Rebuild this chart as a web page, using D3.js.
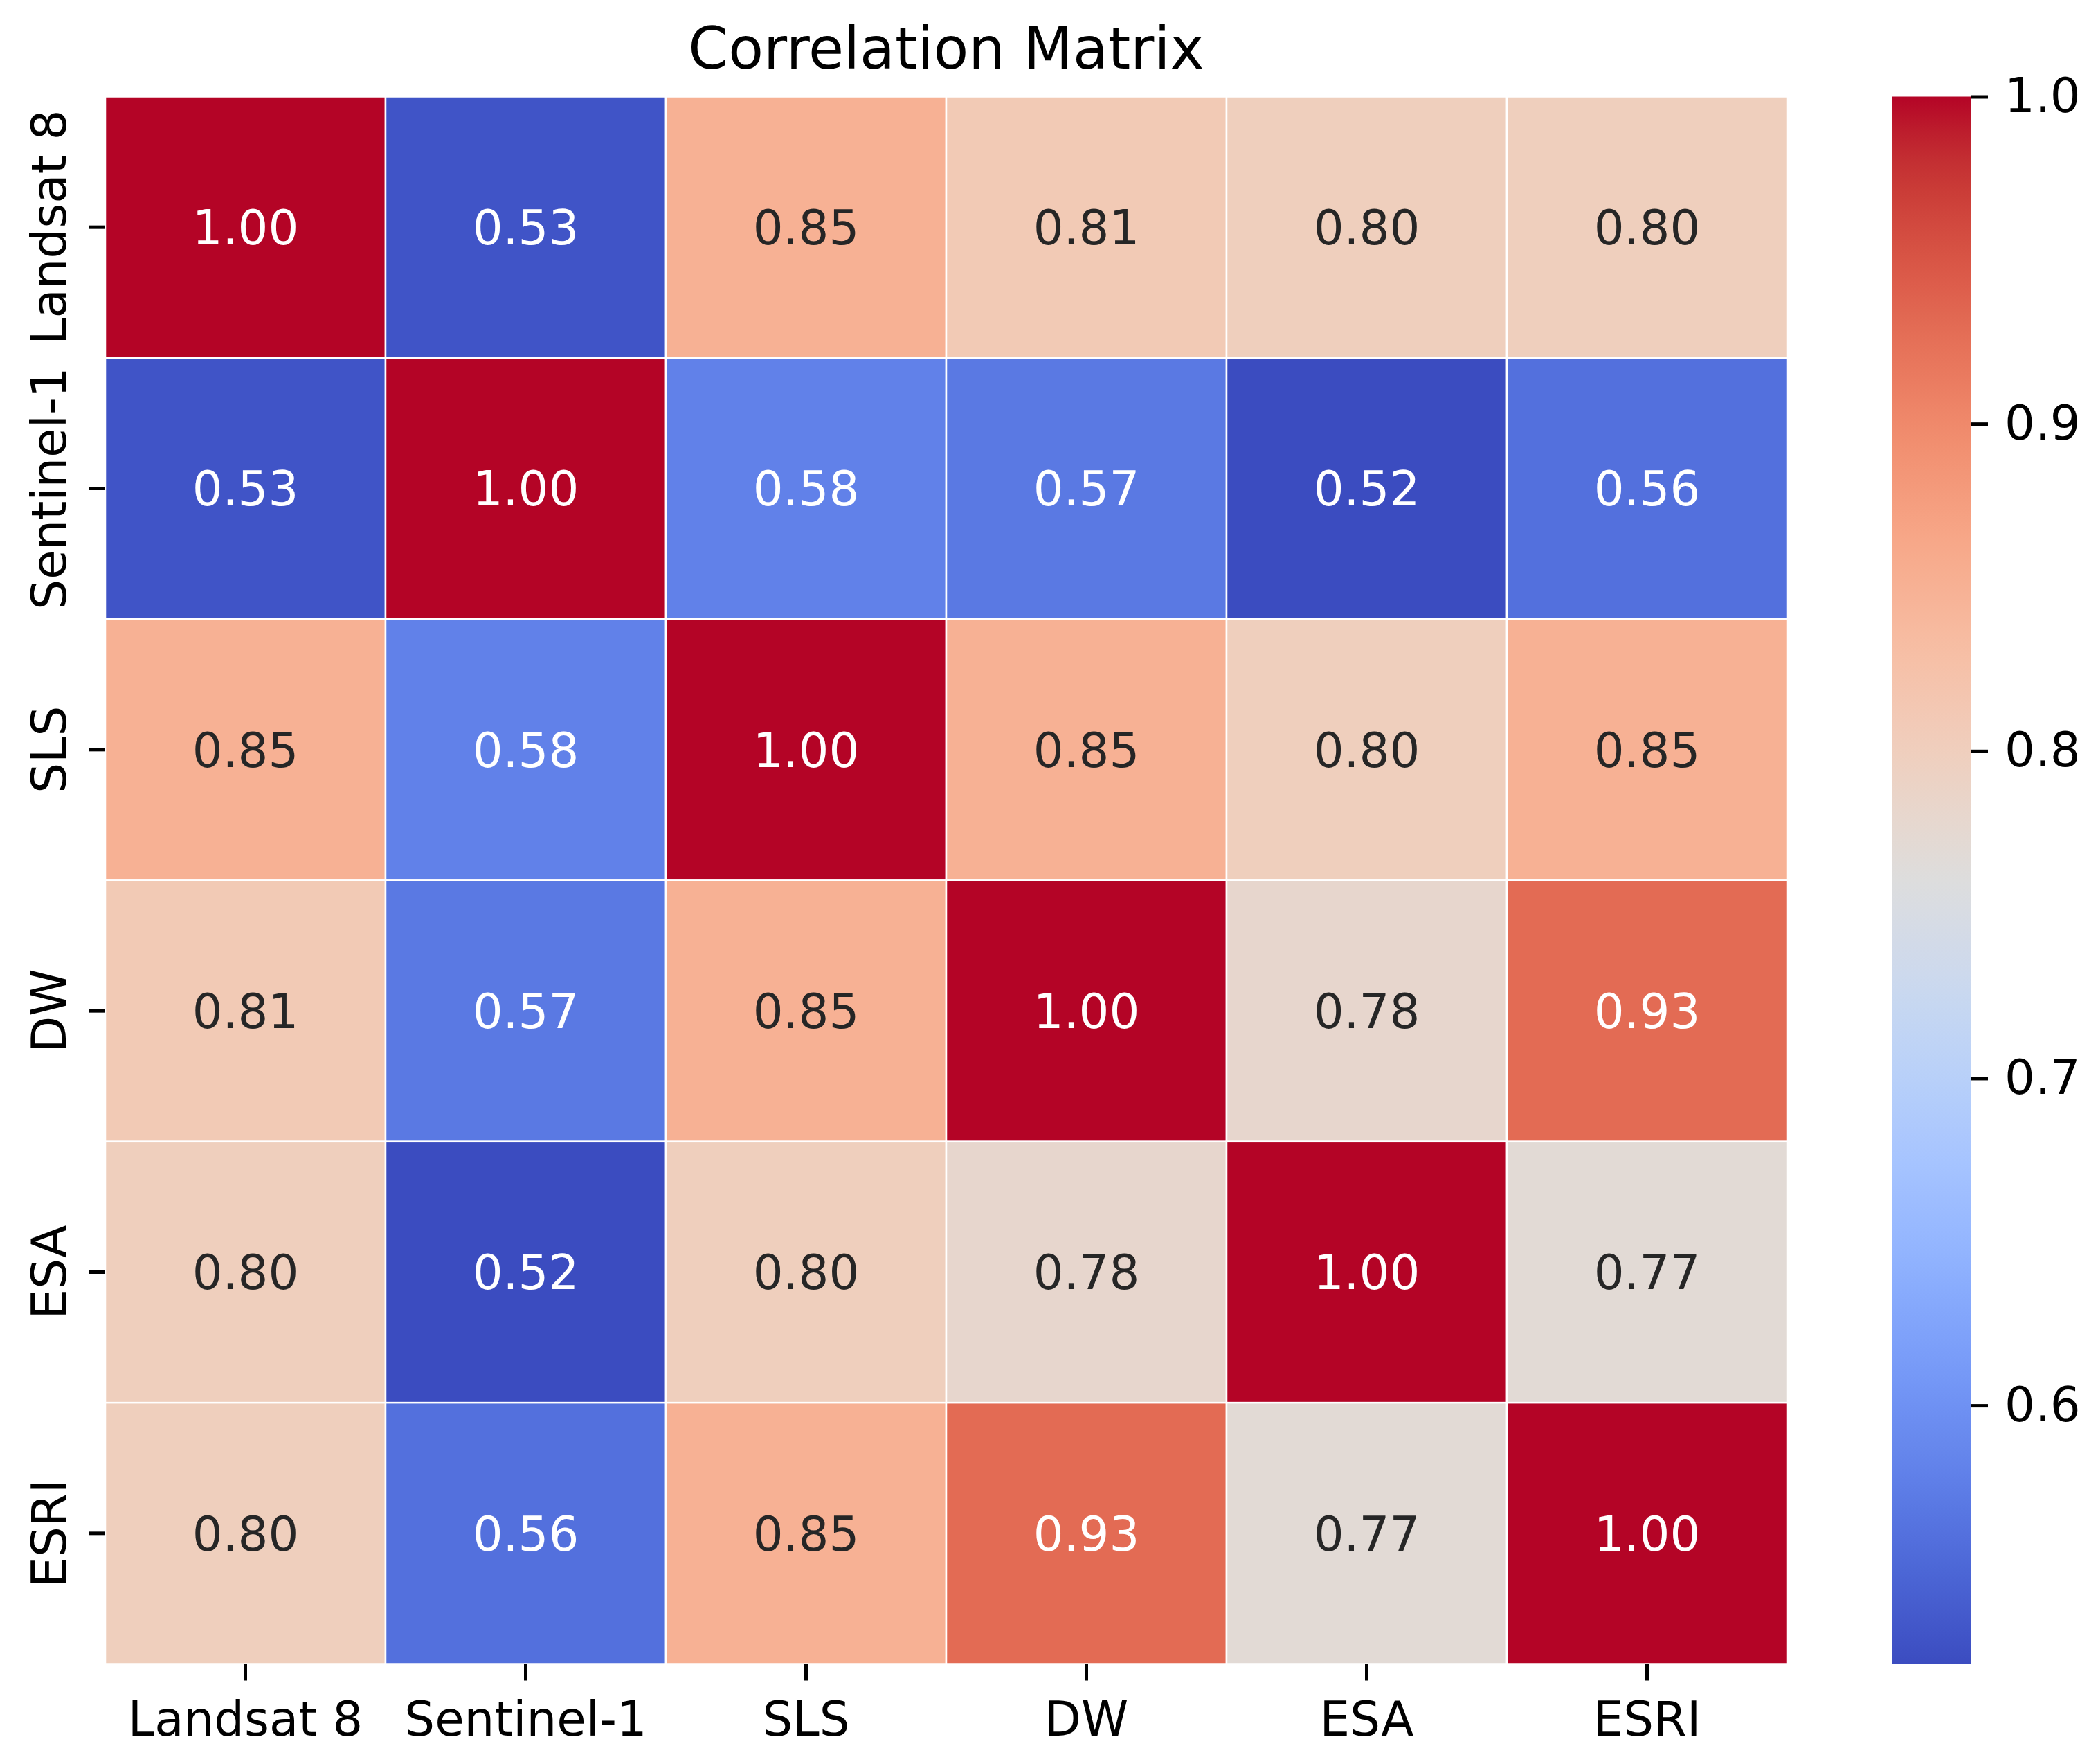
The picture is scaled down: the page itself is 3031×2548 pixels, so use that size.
<!DOCTYPE html>
<meta charset="utf-8">

<script src="https://d3js.org/d3.v7.min.js"></script>

<style type="text/css">

body {
  margin:0;
  background:#fff;
}

svg, svg text {
  font-family:"DejaVu Sans", sans-serif;
}

.axis path {
  display:none;
}

.axis line {
  stroke:#000;
  stroke-width:5;
}

.axis text {
  font-family:"DejaVu Sans", sans-serif;
  font-size:69px;
  fill:#000;
}

</style>

<body>
</body>

<script>

// sources compared, same order for rows and columns
var labels = ["Landsat 8", "Sentinel-1", "SLS", "DW", "ESA", "ESRI"];

// one array per row of the matrix
var rowLandsat  = [1.00, 0.53, 0.85, 0.81, 0.80, 0.80];
var rowSentinel = [0.53, 1.00, 0.58, 0.57, 0.521, 0.56];
var rowSLS      = [0.85, 0.58, 1.00, 0.85, 0.80, 0.85];
var rowDW       = [0.81, 0.57, 0.85, 1.00, 0.78, 0.93];
var rowESA      = [0.80, 0.521, 0.80, 0.78, 1.00, 0.77];
var rowESRI     = [0.80, 0.56, 0.85, 0.93, 0.77, 1.00];

var colorbarTicks = [0.6, 0.7, 0.8, 0.9, 1.0];

var title = "Correlation Matrix";

var rows = [rowLandsat, rowSentinel, rowSLS, rowDW, rowESA, rowESRI];

var cells = [];
rows.forEach(function(r, i) {
  r.forEach(function(v, j) {
    cells.push({row: labels[i], col: labels[j], value: v});
  });
});

// coolwarm (Moreland) control colours
var coolwarm = ["#3b4cc0","#445acc","#4d68d7","#5775e1","#6282ea","#6c8ef1","#779af7","#82a5fb",
  "#8db0fe","#98b9ff","#a3c2ff","#aec9fd","#b8d0f9","#c2d5f4","#ccd9ee","#d5dbe6",
  "#dddddd","#e5d8d1","#ecd3c5","#f1ccb9","#f5c4ad","#f7bba0","#f7b194","#f7a687",
  "#f49a7b","#f18d6f","#ec7f63","#e57058","#de604d","#d55042","#cb3e38","#c0282f","#b40426"];
var coolwarmInterp = d3.piecewise(d3.interpolateRgb, coolwarm);

//variable definitions
var W = 3031, H = 2548;
var heat = {left: 152, top: 139.5, width: 2430, height: 2264};
var bar = {left: 2734, width: 114};

var vmin = d3.min(cells, function(d) {return d.value;});
var vmax = d3.max(cells, function(d) {return d.value;});

var svg = d3.select('body').append('svg')
  .attr('width', W)
  .attr('height', H);

//scales
var xScale = d3.scaleBand()
  .domain(labels)
  .range([heat.left, heat.left + heat.width]);

var yScale = d3.scaleBand()
  .domain(labels)
  .range([heat.top, heat.top + heat.height]);

var color = d3.scaleSequential(coolwarmInterp)
  .domain([vmin, vmax]);

function textColor(c) {
  var rgb = d3.rgb(c);
  var lin = [rgb.r, rgb.g, rgb.b].map(function(v) {
    v = v / 255;
    return v <= 0.03928 ? v / 12.92 : Math.pow((v + 0.055) / 1.055, 2.4);
  });
  var lum = 0.2126 * lin[0] + 0.7152 * lin[1] + 0.0722 * lin[2];
  return lum > 0.408 ? "#262626" : "#fff";
}

//cells
var cell = svg.selectAll('.cell')
  .data(cells)
  .enter().append('g')
  .attr('class', 'cell');

cell.append('rect')
  .attr('x', function(d) {return xScale(d.col);})
  .attr('y', function(d) {return yScale(d.row);})
  .attr('width', xScale.bandwidth())
  .attr('height', yScale.bandwidth())
  .attr('fill', function(d) {return color(d.value);})
  .attr('stroke', '#fff')
  .attr('stroke-width', 2.5);

cell.append('text')
  .attr('x', function(d) {return xScale(d.col) + xScale.bandwidth() / 2;})
  .attr('y', function(d) {return yScale(d.row) + yScale.bandwidth() / 2;})
  .attr('dy', '0.36em')
  .attr('text-anchor', 'middle')
  .style('font-size', '69px')
  .attr('fill', function(d) {return textColor(color(d.value));})
  .text(function(d) {return d.value.toFixed(2);});

//axes
svg.append('g')
  .attr('class', 'x axis')
  .attr('transform', 'translate(0,' + (heat.top + heat.height) + ')')
  .call(d3.axisBottom(xScale).tickSize(24).tickPadding(31));

var yAxis = svg.append('g')
  .attr('class', 'y axis')
  .attr('transform', 'translate(' + heat.left + ',0)')
  .call(d3.axisLeft(yScale).tickSize(24));

yAxis.selectAll('text')
  .attr('x', 0)
  .attr('dy', 0)
  .attr('text-anchor', 'middle')
  .attr('transform', 'translate(-57,0) rotate(-90)');

//title
svg.append('text')
  .attr('x', heat.left + heat.width / 2)
  .attr('y', 99)
  .attr('text-anchor', 'middle')
  .style('font-size', '83px')
  .attr('fill', '#000')
  .text(title);

//colorbar
var barScale = d3.scaleLinear()
  .domain([vmin, vmax])
  .range([heat.top + heat.height, heat.top]);

var grad = svg.append('defs').append('linearGradient')
  .attr('id', 'cbar')
  .attr('x1', 0).attr('y1', 1)
  .attr('x2', 0).attr('y2', 0);

grad.selectAll('stop')
  .data(d3.range(0, 1.0001, 0.02))
  .enter().append('stop')
  .attr('offset', function(t) {return t;})
  .attr('stop-color', function(t) {return coolwarmInterp(t);});

svg.append('rect')
  .attr('x', bar.left)
  .attr('y', heat.top)
  .attr('width', bar.width)
  .attr('height', heat.height)
  .attr('fill', 'url(#cbar)');

svg.append('g')
  .attr('class', 'c axis')
  .attr('transform', 'translate(' + (bar.left + bar.width) + ',0)')
  .call(d3.axisRight(barScale).tickValues(colorbarTicks).tickFormat(d3.format('.1f')).tickSize(24).tickPadding(24));

</script>
